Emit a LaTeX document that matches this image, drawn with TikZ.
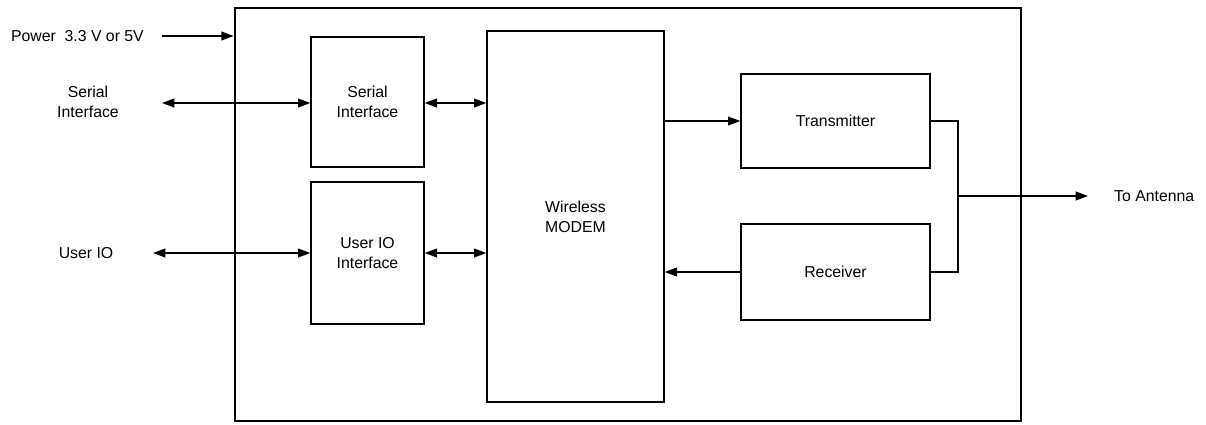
\documentclass[tikz,border=0pt]{standalone}
\usepackage{fontspec}
\setmainfont{Liberation Sans}
\usepackage{tikz}
\usetikzlibrary{arrows.meta}

\begin{document}
\begin{tikzpicture}[x=0.02cm, y=-0.02cm,
    every node/.style={font=\fontsize{9}{11.5}\selectfont, align=center},
    block/.style={draw, line width=0.8pt, inner sep=0pt},
    sig/.style={line width=0.8pt, -{Triangle[length=7pt,width=5pt]}},
    bisig/.style={line width=0.8pt, {Triangle[length=7pt,width=5pt]}-{Triangle[length=7pt,width=5pt]}}]
   \useasboundingbox (0,0) rectangle (1206,424);
   % Module frame
   \node[block, line width=1.6pt, minimum width=786*0.02cm, minimum height=413*0.02cm] (frame) at (628,214.5) {};

   % Inner blocks
   \node[block, minimum width=113*0.02cm, minimum height=130*0.02cm] (serif) at (367.5,102) {Serial\\Interface};
   \node[block, minimum width=113*0.02cm, minimum height=142*0.02cm] (uioif) at (367.5,253) {User IO\\Interface};
   \node[block, minimum width=177*0.02cm, minimum height=371*0.02cm] (modem) at (575.5,216.5) {Wireless\\MODEM};
   \node[block, minimum width=189*0.02cm, minimum height=94*0.02cm] (tx) at (835.5,121) {Transmitter};
   \node[block, minimum width=189*0.02cm, minimum height=96*0.02cm] (rx) at (835.5,272) {Receiver};

   % Outside labels
   \node[anchor=east] (pwr) at (150,36) {Power\ \ 3.3 V or 5V};
   \node (serlbl) at (88,102) {Serial\\Interface};
   \node (uiolbl) at (86,253) {User IO};
   \node[anchor=west] (antlbl) at (1108,196) {To Antenna};
   \coordinate (pwrin) at (162,36);
   \coordinate (serin) at (162,103);
   \coordinate (uioin) at (153,253);
   \coordinate (join) at (958,196);
   \coordinate (ant) at (1088,196);

   % Signals
   \draw[sig] (pwrin) -- (pwrin -| frame.west);
   \draw[bisig] (serin) -- (serin -| serif.west);
   \draw[bisig] (uioin) -- (uioif.west);
   \draw[bisig] (serin -| serif.east) -- (serin -| modem.west);
   \draw[bisig] (uioif.east) -- (uioif.east -| modem.west);
   \draw[sig] (tx.west -| modem.east) -- (tx.west);
   \draw[sig] (rx.west) -- (rx.west -| modem.east);
   \draw[line width=0.8pt] (tx.east) -| (join) |- (rx.east);
   \draw[sig] (join) -- (ant);
\end{tikzpicture}
\end{document}
